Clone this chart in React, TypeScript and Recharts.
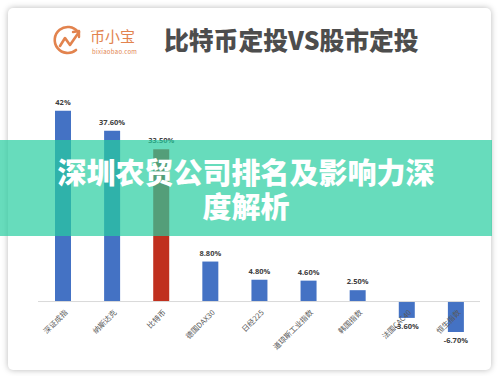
import React from 'react';
import { BarChart, Bar, XAxis, YAxis, Cell, LabelList, ReferenceLine } from 'recharts';

const categories = ['深证成指', '纳斯达克', '比特币', '德国DAX30', '日经225', '道琼斯工业指数', '韩国指数', '法国CAC40', '恒生指数'];
const returns = [42, 37.6, 33.5, 8.8, 4.8, 4.6, 2.5, -3.6, -6.7];
const valueLabels = ['42%', '37.60%', '33.50%', '8.80%', '4.80%', '4.60%', '2.50%', '-3.60%', '-6.70%'];
const highlighted = '比特币';

const data = categories.map((name, i) => ({ name, value: returns[i], label: valueLabels[i] }));

const W = 499;
const H = 376;
const MARGIN = { top: 97, right: 19, bottom: 0, left: 38 };
const X_AXIS_H = 29;
const Y_DOMAIN: [number, number] = [-10, 45];

// x axis sits at the bottom of the plot, move the tick labels up to the zero line
const plotH = H - MARGIN.top - MARGIN.bottom - X_AXIS_H;
const zeroShift = (plotH * (0 - Y_DOMAIN[0])) / (Y_DOMAIN[1] - Y_DOMAIN[0]);

const CJK = '"Noto Sans CJK SC", "Noto Sans", sans-serif';

const AngledTick = (props: any) => {
  const { x, y, payload } = props;
  const ax = x + 5.5;
  const ay = y - zeroShift + 11.5;
  return (
    <text
      x={ax}
      y={ay}
      transform={`rotate(-45, ${ax}, ${ay})`}
      textAnchor="end"
      fontSize={7.5}
      fill="#595959"
      fontFamily={CJK}
    >
      {payload.value}
    </text>
  );
};

const Logo = () => (
  <svg width={130} height={40} style={{ position: 'absolute', left: 48, top: 18 }}>
    <path d="M 30 14 A 13 13 0 1 0 28 32" fill="none" stroke="#E2834E" strokeWidth={2.6} strokeLinecap="round" />
    <polyline points="12,28 17,20 22,27 31,14" fill="none" stroke="#E2834E" strokeWidth={2.6} strokeLinejoin="round" strokeLinecap="round" />
    <polyline points="25,14 31,13 31,19" fill="none" stroke="#E2834E" strokeWidth={2.4} strokeLinecap="round" strokeLinejoin="round" />
    <text x={42} y={24} fontSize={15} fill="#E2834E" fontFamily={CJK}>币小宝</text>
    <text x={44} y={36} fontSize={6} fill="#E2834E" fontFamily={CJK} letterSpacing={0.3}>bixiaobao.com</text>
  </svg>
);

export default function App() {
  return (
    <div style={{ position: 'absolute', left: 0, top: 0, width: W, height: H, background: '#fff', overflow: 'hidden' }}>
      <div
        style={{
          position: 'absolute',
          left: 8,
          top: 8,
          width: 483,
          height: 362,
          background: '#fff',
          borderRadius: 5,
          boxShadow: '0 0 6px rgba(0,0,0,0.28)',
        }}
      />
      <Logo />
      <div
        style={{
          position: 'absolute',
          left: 164,
          top: 21,
          fontFamily: CJK,
          fontWeight: 900,
          fontSize: 24.8,
          color: '#4d4d4d',
          lineHeight: '36px',
          whiteSpace: 'nowrap',
        }}
      >
        比特币定投VS股市定投
      </div>
      <div style={{ position: 'absolute', left: 0, top: 0 }}>
        <BarChart width={W} height={H} data={data} margin={MARGIN}>
          <XAxis
            dataKey="name"
            height={X_AXIS_H}
            axisLine={false}
            tickLine={false}
            tickSize={0}
            tickMargin={0}
            interval={0}
            tick={<AngledTick />}
          />
          <YAxis hide width={0} domain={Y_DOMAIN} />
          <ReferenceLine y={0} stroke="#d9d9d9" strokeWidth={1} />
          <Bar dataKey="value" barSize={16} isAnimationActive={false}>
            {data.map((d) => (
              <Cell key={d.name} fill={d.name === highlighted ? '#C0301E' : '#4472C4'} />
            ))}
            <LabelList
              dataKey="label"
              position="top"
              offset={6}
              fill="#404040"
              fontSize={7.5}
              fontWeight={700}
              fontFamily='"Open Sans", sans-serif'
            />
          </Bar>
        </BarChart>
      </div>
      <div
        style={{
          position: 'absolute',
          left: 0,
          top: 140,
          width: 492,
          height: 96,
          background: 'rgba(38, 205, 160, 0.7)',
          display: 'flex',
          alignItems: 'center',
          justifyContent: 'center',
        }}
      >
        <div
          style={{
            width: 400,
            textAlign: 'center',
            color: '#fff',
            fontFamily: CJK,
            fontWeight: 900,
            fontSize: 29,
            lineHeight: '34px',
          }}
        >
          深圳农贸公司排名及影响力深度解析
        </div>
      </div>
    </div>
  );
}
